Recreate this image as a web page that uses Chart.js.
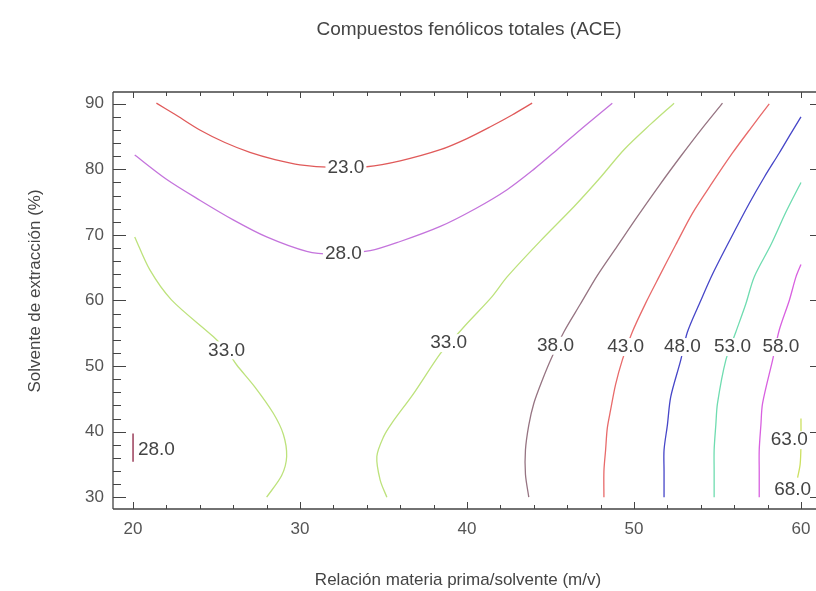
<!DOCTYPE html>
<html>
<head>
<meta charset="utf-8">
<script src="https://cdn.jsdelivr.net/npm/chart.js@4.4.1/dist/chart.umd.min.js"></script>
<style>
  html, body { margin: 0; padding: 0; background: #fff; overflow: hidden; }
</style>
</head>
<body>
<canvas id="contour" width="816" height="591"></canvas>
<script>
// axis ticks
const xTicks = [20, 30, 40, 50, 60];
const yTicks = [30, 40, 50, 60, 70, 80, 90];

// contour lines, [x, y] pairs
const c23 = [[21.4,90.1],[22.5,88.4],[24,86.0],[25.5,84.1],[27,82.6],[28.5,81.5],[30,80.7],[32,80.3],[34,80.4],[36,81.3],[38.4,83.0],[40,84.7],[41.4,86.5],[42.7,88.3],[43.9,90.1]];
const c28 = [[20.1,82.2],[22,78.5],[24,75.3],[26,72.3],[28,69.7],[30.4,67.5],[32,67.1],[34.2,67.6],[36,69.0],[38.4,71.3],[40.5,74.0],[42.4,76.9],[44,80.0],[45.4,83.0],[47,86.5],[48.7,90.1]];
const c33a = [[20.1,69.7],[21,64.7],[22.3,60.1],[24.8,54.5],[25.6,52.4],[26.2,50.2],[27.3,46.8],[28.4,42.8],[29.0,39.6],[29.2,36.2],[28.9,33.3],[28.0,30]];
const c33b = [[35.2,30],[34.8,32.6],[34.6,36.2],[35.0,39.2],[35.5,41.3],[36.8,45.8],[38.4,51.9],[39.2,54.2],[40,56.5],[41.5,60.6],[42.4,63.6],[44.4,69.1],[46.4,74.3],[48,78.8],[49.4,83],[51,86.9],[52.4,90.1]];
const c38 = [[43.7,30],[43.5,33.5],[43.5,37.2],[43.7,41],[44.0,44.3],[44.5,47.8],[45.0,50.9],[45.8,55.2],[46.8,59.5],[47.8,63.8],[49.0,68.3],[50.2,72.8],[51.5,77.5],[52.8,82],[54,86],[55.3,90.1]];
const c43 = [[48.2,30],[48.2,34],[48.3,37.2],[48.4,40.5],[48.6,43.3],[48.9,47.2],[49.3,50.9],[49.9,55.2],[50.7,59.6],[51.5,63.6],[52.5,68.5],[53.5,73.3],[54.7,78],[55.9,82.5],[57.0,86.3],[58.1,90]];
const c48 = [[51.8,30],[51.8,34],[51.8,37.2],[52.0,41],[52.2,45.3],[52.8,50.9],[53.2,55.2],[54.0,60],[54.7,64.0],[55.8,69.5],[56.9,74.8],[57.8,78.8],[58.7,82.5],[59.4,85.5],[60,88]];
const c53 = [[54.8,30],[54.8,34],[54.8,37.2],[54.9,41],[55.0,44.3],[55.5,50.9],[56.1,55.2],[56.7,59.5],[57.2,63.6],[58.2,68.5],[59.1,73.5],[60,78]];
const c58 = [[57.5,30],[57.5,34],[57.5,37.2],[57.6,41],[57.7,44.3],[58.3,50.9],[58.7,55.5],[59.3,60],[59.7,63.6],[60,65.5]];
const c63 = [[60,42],[60,38],[59.95,35],[59.8,33]];
const c28b = [[20,39.7],[20,35.4]];

// contour labels
const labelText = ['23.0','28.0','33.0','33.0','38.0','43.0','48.0','53.0','58.0','63.0','68.0','28.0'];
const labelX = [32.75, 32.6, 25.6, 38.9, 45.3, 49.5, 52.9, 55.9, 58.8, 59.3, 59.5, 21.4];
const labelY = [80.3, 67.2, 52.4, 53.5, 53.1, 52.9, 52.9, 52.9, 52.9, 38.7, 31.1, 37.2];

const FONT = '"Liberation Sans", Arial, sans-serif';

function line(pts, color) {
    return {
        data: pts.map(p => ({x: p[0], y: p[1]})),
        borderColor: color,
        borderWidth: 1.3,
        pointRadius: 0,
        tension: 0.3,
        fill: false
    };
}

// frame, inside ticks, titles and contour labels
const extras = {
    id: 'extras',
    afterDatasetsDraw(chart) {
        const ctx = chart.ctx;
        const xs = chart.scales.x, ys = chart.scales.y;
        ctx.save();
        ctx.font = '19px ' + FONT;
        ctx.textAlign = 'center';
        ctx.textBaseline = 'middle';
        for (let i = 0; i < labelText.length; i++) {
            let px = xs.getPixelForValue(labelX[i]);
            let py = ys.getPixelForValue(labelY[i]);
            let w = ctx.measureText(labelText[i]).width;
            ctx.fillStyle = '#fff';
            ctx.fillRect(px - w / 2 - 2, py - 9, w + 4, 18);
            ctx.fillStyle = '#444';
            ctx.fillText(labelText[i], px, py);
        }
        ctx.restore();
    },
    afterDraw(chart) {
        const ctx = chart.ctx;
        const a = chart.chartArea;
        const xs = chart.scales.x, ys = chart.scales.y;
        ctx.save();
        ctx.strokeStyle = '#444';
        ctx.lineWidth = 1.3;
        ctx.beginPath();
        ctx.moveTo(a.left, a.top); ctx.lineTo(a.right, a.top);
        ctx.moveTo(a.left, a.top); ctx.lineTo(a.left, a.bottom);
        ctx.moveTo(a.left, a.bottom); ctx.lineTo(a.right, a.bottom);
        ctx.stroke();

        ctx.lineWidth = 1;
        ctx.beginPath();
        for (let v = 20; v <= 60; v += 2) {
            let px = Math.round(xs.getPixelForValue(v)) + 0.5;
            let major = v % 10 === 0;
            ctx.moveTo(px, a.bottom); ctx.lineTo(px, a.bottom - (major ? 7 : 4));
            ctx.moveTo(px, a.top); ctx.lineTo(px, a.top + (major ? 6 : 4));
        }
        for (let v = 30; v <= 90; v += 2) {
            let py = Math.round(ys.getPixelForValue(v)) + 0.5;
            let major = v % 10 === 0;
            ctx.moveTo(a.left, py); ctx.lineTo(a.left + (major ? 13 : 8), py);
            if (major) { ctx.moveTo(a.right, py); ctx.lineTo(a.right - 6, py); }
        }
        ctx.stroke();

        ctx.fillStyle = '#444';
        ctx.textAlign = 'center';
        ctx.textBaseline = 'middle';
        ctx.font = '19px ' + FONT;
        ctx.fillText('Compuestos fenólicos totales (ACE)', 469, 30);
        ctx.font = '17px ' + FONT;
        ctx.fillText('Relación materia prima/solvente (m/v)', 458, 580);
        ctx.translate(35, 291);
        ctx.rotate(-Math.PI / 2);
        ctx.fillText('Solvente de extracción (%)', 0, 0);
        ctx.restore();
    }
};

new Chart(document.getElementById('contour'), {
    type: 'line',
    data: {
        datasets: [
            line(c23, '#e05a5a'),
            line(c28, '#c474dc'),
            line(c33a, '#bde27c'),
            line(c33b, '#bde27c'),
            line(c38, '#967482'),
            line(c43, '#e86a6a'),
            line(c48, '#4646c8'),
            line(c53, '#6fdcb0'),
            line(c58, '#d860e0'),
            line(c63, '#cce060'),
            line(c28b, '#8b2040')
        ]
    },
    options: {
        responsive: false,
        devicePixelRatio: 1,
        animation: false,
        layout: { padding: { top: 92, right: 0, left: 0, bottom: 0 } },
        plugins: { legend: { display: false }, tooltip: { enabled: false }, title: { display: false } },
        scales: {
            x: {
                type: 'linear',
                min: 18.8, max: 60.9,
                afterBuildTicks: s => { s.ticks = xTicks.map(v => ({value: v})); },
                afterFit: s => { s.height = 82; },
                grid: { display: false },
                border: { display: false },
                ticks: { color: '#555', padding: 2, font: { family: FONT, size: 17 } }
            },
            y: {
                type: 'linear',
                min: 28.2, max: 91.8,
                afterBuildTicks: s => { s.ticks = yTicks.map(v => ({value: v})); },
                afterFit: s => { s.width = 113; },
                grid: { display: false },
                border: { display: false },
                ticks: { color: '#555', padding: 1, font: { family: FONT, size: 17 } }
            }
        }
    },
    plugins: [extras]
});
</script>
</body>
</html>
